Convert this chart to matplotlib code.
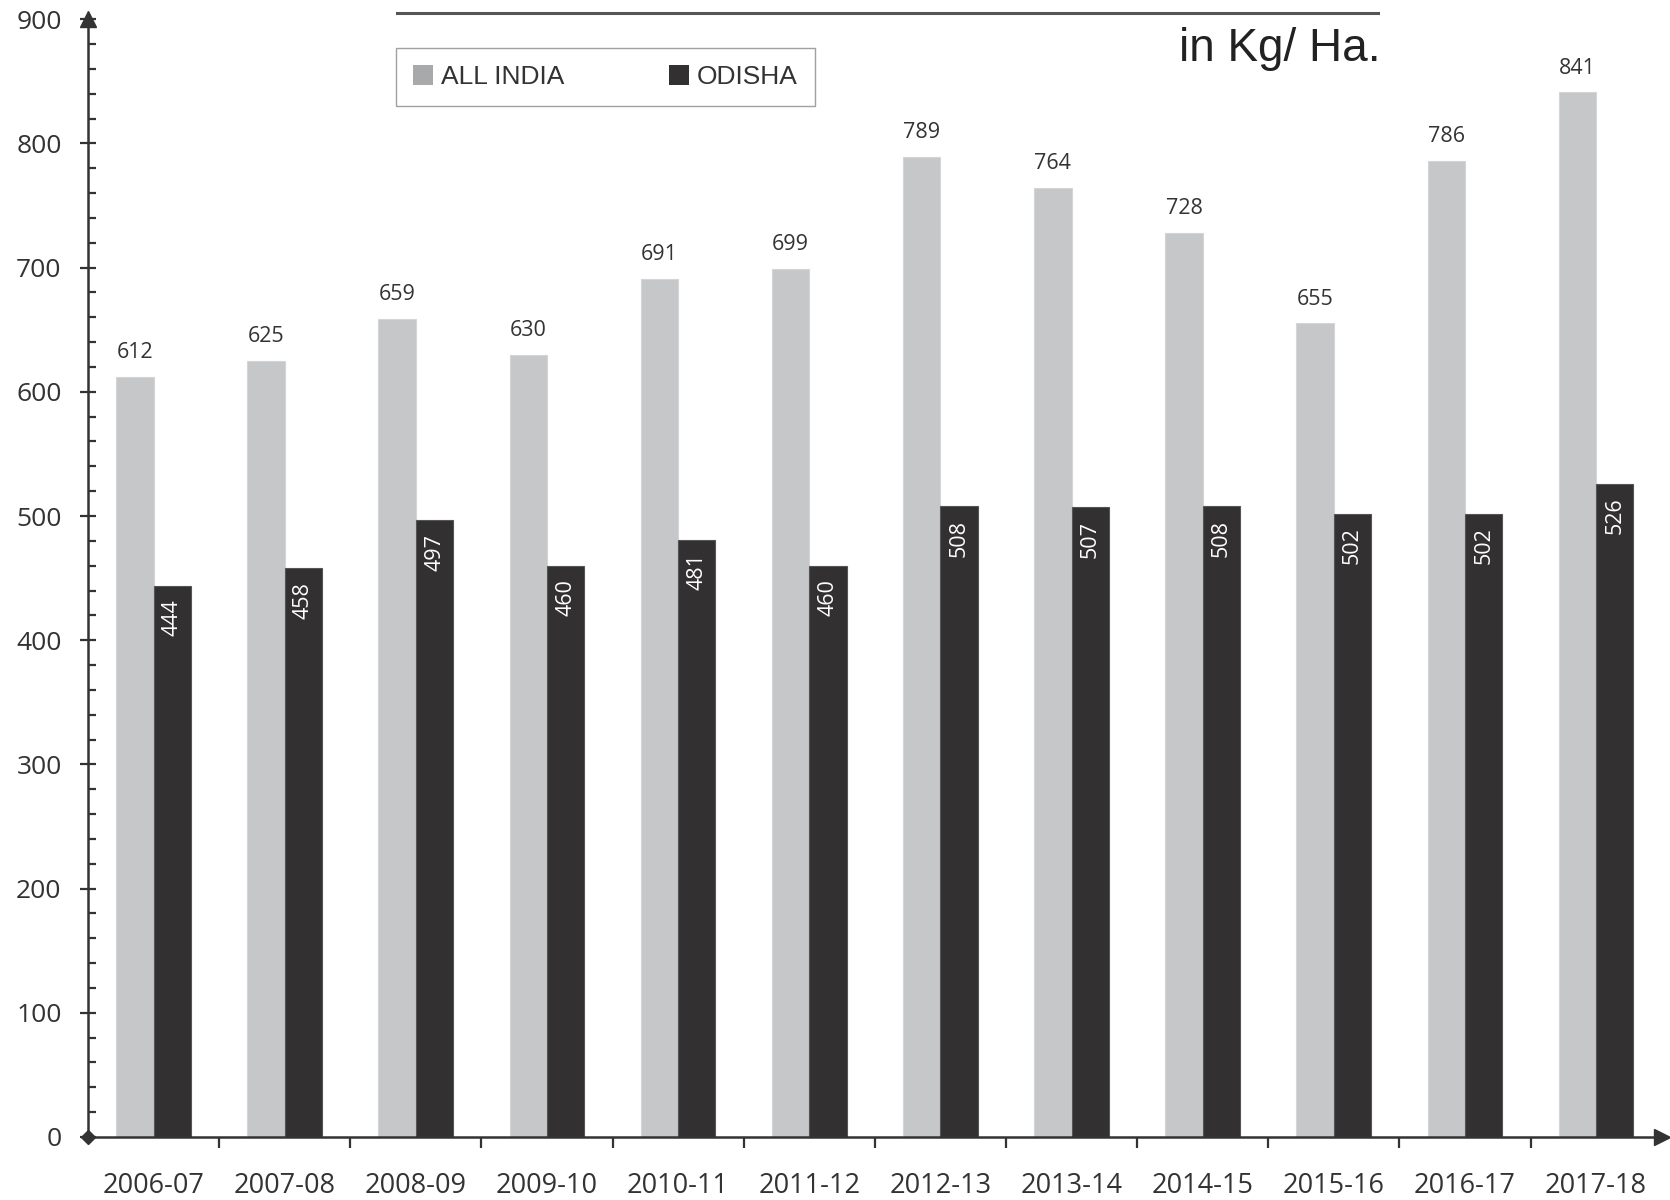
import matplotlib.pyplot as plt
import numpy as np
from matplotlib.patches import Patch
from matplotlib.ticker import MultipleLocator

YEARS = ['2006-07', '2007-08', '2008-09', '2009-10', '2010-11', '2011-12',
         '2012-13', '2013-14', '2014-15', '2015-16', '2016-17', '2017-18']
ALL_INDIA = [612, 625, 659, 630, 691, 699, 789, 764, 728, 655, 786, 841]
ODISHA = [444, 458, 497, 460, 481, 460, 508, 507, 508, 502, 502, 526]

LIGHT = '#c6c7c9'
DARK = '#323031'
INK = '#333333'
BAR_W = 0.285
NARROW = ['Liberation Sans', 'DejaVu Sans']

plt.rcParams['font.family'] = ['Open Sans', 'DejaVu Sans']

fig = plt.figure(figsize=(16.7, 12), dpi=100)
ax = fig.add_axes([0.0527, 0.0525, 0.9423, 0.9315])

x = np.arange(len(YEARS))
bars_india = ax.bar(x - BAR_W / 2, ALL_INDIA, BAR_W, color=LIGHT, edgecolor='#d4d5d7', linewidth=0.8)
bars_odisha = ax.bar(x + BAR_W / 2, ODISHA, BAR_W, color=DARK, edgecolor='#555555', linewidth=0.8)

for rect, val in zip(bars_india, ALL_INDIA):
    ax.annotate(str(val), (rect.get_x() + rect.get_width() / 2, val),
                xytext=(0, 10), textcoords='offset points',
                ha='center', va='bottom', fontsize=15.5, color=INK)

for rect, val in zip(bars_odisha, ODISHA):
    ax.annotate(str(val), (rect.get_x() + rect.get_width() / 2, val),
                xytext=(0, -10), textcoords='offset points',
                ha='center', va='top', rotation=90, fontsize=15.5, color='white')

ax.set_xlim(-0.5, len(YEARS) - 0.5)
ax.set_ylim(0, 900)

for side in ['top', 'right']:
    ax.spines[side].set_visible(False)
for side in ['left', 'bottom']:
    ax.spines[side].set_color(INK)
    ax.spines[side].set_linewidth(1.8)

# y axis: major ticks crossing, minor ticks inside
ax.yaxis.set_major_locator(MultipleLocator(100))
ax.yaxis.set_minor_locator(MultipleLocator(20))
ax.tick_params(axis='y', which='major', direction='inout', length=12, width=1.6,
               color=INK, labelsize=19, labelcolor=INK, pad=13)
ax.tick_params(axis='y', which='minor', direction='in', length=6, width=1.6, color=INK)

# x axis: labels at centres, ticks at category boundaries
ax.set_xticks(x)
ax.set_xticklabels(YEARS)
ax.set_xticks(x[:-1] + 0.5, minor=True)
ax.tick_params(axis='x', which='major', length=0, labelsize=19.5, labelcolor=INK, pad=25)
ax.tick_params(axis='x', which='minor', direction='out', length=8, width=1.6, color=INK)

# arrow heads and origin diamond
ax.plot([-0.5], [900], marker='^', markersize=11, color=INK, clip_on=False)
ax.plot([len(YEARS) - 0.5], [0], marker='>', markersize=11, color=INK, clip_on=False)
ax.plot([-0.5], [0], marker='D', markersize=7, color=INK, clip_on=False)

handles = [Patch(facecolor='#a8a9ab', label='ALL INDIA'),
           Patch(facecolor=DARK, label='ODISHA')]
leg = fig.legend(handles=handles, loc='upper left', bbox_to_anchor=(0.237, 0.90, 0.251, 0.06),
                 mode='expand', borderaxespad=0, ncol=2, frameon=True, fancybox=False,
                 handlelength=0.75, handleheight=0.75, handletextpad=0.3,
                 borderpad=0.65, prop={'family': NARROW, 'size': 19})
leg.get_frame().set_edgecolor('#888888')
leg.get_frame().set_linewidth(1.0)
for t in leg.get_texts():
    t.set_color(INK)

# underline of the (cropped) heading and the unit note
fig.add_artist(plt.Line2D([0.238, 0.825], [0.989, 0.989], color='#555555', linewidth=2.2))
fig.text(0.827, 0.949, 'in Kg/ Ha.', ha='right', va='baseline', fontsize=33, color='#222222',
         family=NARROW)

fig.savefig('out.png', dpi=100)
